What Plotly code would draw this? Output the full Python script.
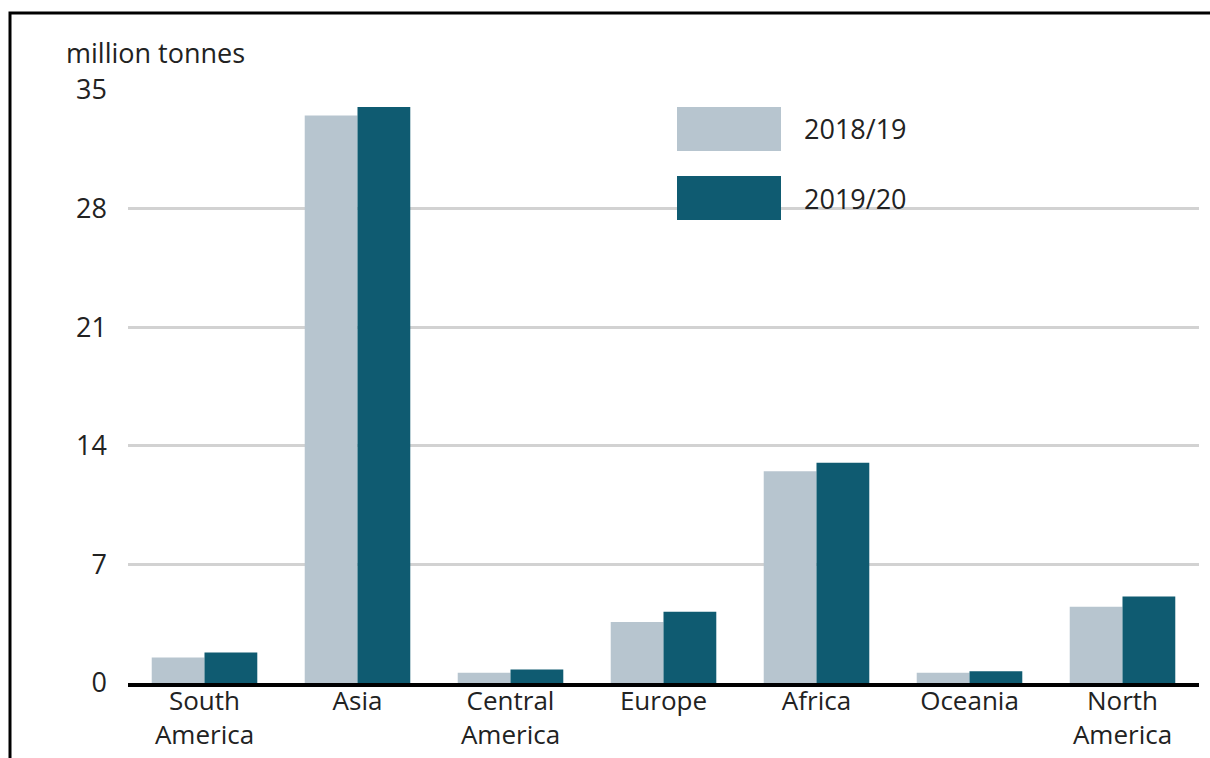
import plotly.graph_objects as go

# Regional totals, million tonnes
regions = ["South<br>America", "Asia", "Central<br>America", "Europe",
           "Africa", "Oceania", "North<br>America"]
season_2018_19 = [1.5, 33.5, 0.6, 3.6, 12.5, 0.6, 4.5]
season_2019_20 = [1.8, 34.0, 0.8, 4.2, 13.0, 0.7, 5.1]
y_ticks = [0, 7, 14, 21, 28, 35]

LIGHT = "#b7c5cf"
DARK = "#0f5b71"
TEXT = "#222222"
FONT = "Open Sans"
FS = 27

W, H = 1210, 758
ML, MR, MT, MB = 128, 11, 90, 75
PW, PH = W - ML - MR, H - MT - MB


def px_x(px):
    return (px - ML) / PW


def px_y(py):
    return (H - MB - py) / PH


fig = go.Figure()
fig.add_trace(go.Bar(x=regions, y=season_2018_19, name="2018/19",
                     marker=dict(color=LIGHT, line=dict(width=0))))
fig.add_trace(go.Bar(x=regions, y=season_2019_20, name="2019/20",
                     marker=dict(color=DARK, line=dict(width=0))))

shapes = []
annotations = []

# legend swatches and labels
for label, color, top, bottom in [("2018/19", LIGHT, 107, 151),
                                  ("2019/20", DARK, 176, 220)]:
    shapes.append(dict(type="rect", xref="paper", yref="paper",
                       x0=px_x(677), x1=px_x(781), y0=px_y(bottom), y1=px_y(top),
                       fillcolor=color, line=dict(width=0), layer="above"))
    annotations.append(dict(text=label, xref="paper", yref="paper",
                            x=px_x(802), y=px_y((top + bottom) / 2),
                            xanchor="left", yanchor="middle", showarrow=False,
                            font=dict(family=FONT, size=FS, color=TEXT)))

# unit label above the value axis
annotations.append(dict(text="million tonnes", xref="paper", yref="paper",
                        x=px_x(64), y=px_y(52), xanchor="left", yanchor="middle",
                        showarrow=False,
                        font=dict(family=FONT, size=FS, color=TEXT)))

# frame around the figure
shapes.append(dict(type="rect", xref="paper", yref="paper",
                   x0=px_x(10), x1=px_x(W + 20), y0=px_y(H + 20), y1=px_y(13),
                   line=dict(color="black", width=3), fillcolor="rgba(0,0,0,0)",
                   layer="above"))

fig.update_layout(
    width=W, height=H,
    margin=dict(l=ML, r=MR, t=MT, b=MB, pad=0, autoexpand=False),
    paper_bgcolor="white", plot_bgcolor="white",
    barmode="group", bargap=0.31, bargroupgap=0,
    showlegend=False,
    font=dict(family=FONT, size=FS, color=TEXT),
    shapes=shapes, annotations=annotations,
    xaxis=dict(range=[-0.5, 6.5], showgrid=False, showline=True,
               linecolor="black", linewidth=4, ticks="", automargin=False,
               ticklabelstandoff=-8,
               tickfont=dict(family=FONT, size=26, color=TEXT)),
    yaxis=dict(range=[0, 35], tickvals=y_ticks, showgrid=True,
               gridcolor="#d2d2d2", gridwidth=3, zeroline=False,
               showline=False, ticks="", ticklabelstandoff=20, automargin=False,
               tickfont=dict(family=FONT, size=FS, color=TEXT)),
)

fig.write_html("out.html")
